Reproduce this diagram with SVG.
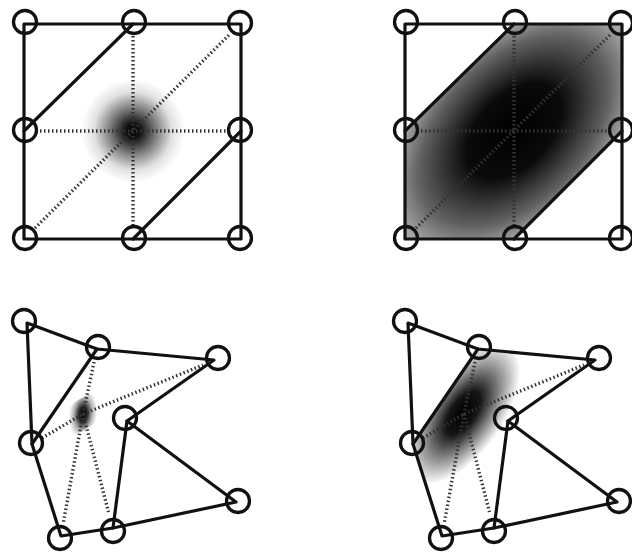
<svg xmlns="http://www.w3.org/2000/svg" width="632" height="554" viewBox="0 0 632 554">
<style>
.solid{stroke:#111;stroke-width:3.2;fill:none;stroke-linecap:round;stroke-linejoin:round}
.dot{stroke:#333;stroke-width:3.4;fill:none;stroke-dasharray:1.5 2.5}
.node circle{fill:none;stroke:#111;stroke-width:3.3}
</style>
<defs>
<radialGradient id="gTL" gradientUnits="userSpaceOnUse" cx="0" cy="0" r="1" gradientTransform="translate(133 131) scale(52 52)">
<stop offset="0" stop-color="#000" stop-opacity="1"/>
<stop offset="0.15" stop-color="#000" stop-opacity="0.92"/>
<stop offset="0.45" stop-color="#000" stop-opacity="0.5"/>
<stop offset="0.75" stop-color="#000" stop-opacity="0.12"/>
<stop offset="1" stop-color="#000" stop-opacity="0"/>
</radialGradient>
<radialGradient id="gTR" gradientUnits="userSpaceOnUse" cx="0" cy="0" r="1" gradientTransform="translate(133 131) rotate(-45) scale(190 118)">
<stop offset="0" stop-color="#000" stop-opacity="1"/>
<stop offset="0.3" stop-color="#000" stop-opacity="0.96"/>
<stop offset="0.6" stop-color="#000" stop-opacity="0.62"/>
<stop offset="0.85" stop-color="#000" stop-opacity="0.22"/>
<stop offset="1" stop-color="#000" stop-opacity="0.08"/>
</radialGradient>
<radialGradient id="gBL" gradientUnits="userSpaceOnUse" cx="0" cy="0" r="1" gradientTransform="translate(83 414) rotate(-42) scale(25 14)">
<stop offset="0" stop-color="#000" stop-opacity="1"/>
<stop offset="0.3" stop-color="#000" stop-opacity="0.85"/>
<stop offset="0.65" stop-color="#000" stop-opacity="0.3"/>
<stop offset="1" stop-color="#000" stop-opacity="0"/>
</radialGradient>
<radialGradient id="gBR" gradientUnits="userSpaceOnUse" cx="0" cy="0" r="1" gradientTransform="translate(82 413) rotate(-55) scale(82 40)">
<stop offset="0" stop-color="#000" stop-opacity="1"/>
<stop offset="0.3" stop-color="#000" stop-opacity="0.92"/>
<stop offset="0.65" stop-color="#000" stop-opacity="0.45"/>
<stop offset="1" stop-color="#000" stop-opacity="0"/>
</radialGradient>
<clipPath id="hexClip" clipPathUnits="userSpaceOnUse">
<polygon points="24,131 133,24 241,24 241,131 133,239 24,239"/>
</clipPath>
<clipPath id="quadClip" clipPathUnits="userSpaceOnUse">
<polygon points="97,349 214,360 180,560 61,536 32,444"/>
</clipPath>
</defs>
<rect width="632" height="554" fill="#fff"/>

<g id="shading">
<circle cx="133" cy="131" r="52" fill="url(#gTL)"/>
<g transform="translate(381 0)">
<rect x="24" y="24" width="217" height="215" fill="url(#gTR)" clip-path="url(#hexClip)"/>
</g>
<ellipse cx="83" cy="414" rx="25" ry="14" transform="rotate(-42 83 414)" fill="url(#gBL)"/>
<g transform="translate(381 0)">
<rect x="0" y="300" width="220" height="260" fill="url(#gBR)" clip-path="url(#quadClip)"/>
</g>
</g>

<g id="connectors">
<g id="conn-tl">
<line class="dot" x1="133" y1="36" x2="133" y2="227"/>
<line class="dot" x1="36" y1="131" x2="229" y2="131"/>
<line class="dot" x1="35" y1="228" x2="230" y2="34"/>
<polygon class="solid" points="24,24 241,24 241,239 24,239"/>
<line class="solid" x1="24" y1="131" x2="133" y2="24"/>
<line class="solid" x1="133" y1="239" x2="241" y2="131"/>
</g>
<g id="conn-tr" transform="translate(381 0)">
<line class="dot" x1="133" y1="36" x2="133" y2="227"/>
<line class="dot" x1="36" y1="131" x2="229" y2="131"/>
<line class="dot" x1="35" y1="228" x2="230" y2="34"/>
<polygon class="solid" points="24,24 241,24 241,239 24,239"/>
<line class="solid" x1="24" y1="131" x2="133" y2="24"/>
<line class="solid" x1="133" y1="239" x2="241" y2="131"/>
</g>
<g id="conn-bl">
<line class="dot" x1="94" y1="362" x2="83" y2="414"/>
<polyline class="dot" points="42,438 83,414 203,365"/>
<line class="dot" x1="83" y1="414" x2="63.5" y2="522"/>
<line class="dot" x1="83" y1="414" x2="108.5" y2="512"/>
<polygon class="solid" points="27,323 97,349 214,360 127,421 236,502 113,528 61,536 32,444"/>
<line class="solid" x1="32" y1="444" x2="97" y2="349"/>
<line class="solid" x1="127" y1="421" x2="113" y2="528"/>
</g>
<g id="conn-br" transform="translate(381 0)">
<line class="dot" x1="94" y1="362" x2="83" y2="414"/>
<polyline class="dot" points="42,438 83,414 203,365"/>
<line class="dot" x1="83" y1="414" x2="63.5" y2="522"/>
<line class="dot" x1="83" y1="414" x2="108.5" y2="512"/>
<polygon class="solid" points="27,323 97,349 214,360 127,421 236,502 113,528 61,536 32,444"/>
<line class="solid" x1="32" y1="444" x2="97" y2="349"/>
<line class="solid" x1="127" y1="421" x2="113" y2="528"/>
</g>
</g>

<g id="tl-n1" class="node"><circle cx="25" cy="22" r="11.5"/></g>
<g id="tl-n2" class="node"><circle cx="134" cy="22" r="11.5"/></g>
<g id="tl-n3" class="node"><circle cx="240" cy="23" r="11.5"/></g>
<g id="tl-n4" class="node"><circle cx="25" cy="130" r="11.5"/></g>
<g id="tl-n5" class="node"><circle cx="240" cy="130" r="11.5"/></g>
<g id="tl-n6" class="node"><circle cx="25" cy="238" r="11.5"/></g>
<g id="tl-n7" class="node"><circle cx="134" cy="238" r="11.5"/></g>
<g id="tl-n8" class="node"><circle cx="240" cy="238" r="11.5"/></g>
<g id="tr-n1" class="node"><circle cx="406" cy="22" r="11.5"/></g>
<g id="tr-n2" class="node"><circle cx="515" cy="22" r="11.5"/></g>
<g id="tr-n3" class="node"><circle cx="621" cy="23" r="11.5"/></g>
<g id="tr-n4" class="node"><circle cx="406" cy="130" r="11.5"/></g>
<g id="tr-n5" class="node"><circle cx="621" cy="130" r="11.5"/></g>
<g id="tr-n6" class="node"><circle cx="406" cy="238" r="11.5"/></g>
<g id="tr-n7" class="node"><circle cx="515" cy="238" r="11.5"/></g>
<g id="tr-n8" class="node"><circle cx="621" cy="238" r="11.5"/></g>
<g id="bl-A" class="node"><circle cx="24" cy="321" r="11.5"/></g>
<g id="bl-B" class="node"><circle cx="98" cy="347" r="11.5"/></g>
<g id="bl-C" class="node"><circle cx="218" cy="358" r="11.5"/></g>
<g id="bl-D" class="node"><circle cx="125" cy="418" r="11.5"/></g>
<g id="bl-E" class="node"><circle cx="31" cy="443" r="11.5"/></g>
<g id="bl-F" class="node"><circle cx="60" cy="538" r="11.5"/></g>
<g id="bl-G" class="node"><circle cx="113" cy="531" r="11.5"/></g>
<g id="bl-H" class="node"><circle cx="238" cy="501" r="11.5"/></g>
<g id="br-A" class="node"><circle cx="405" cy="321" r="11.5"/></g>
<g id="br-B" class="node"><circle cx="479" cy="347" r="11.5"/></g>
<g id="br-C" class="node"><circle cx="599" cy="358" r="11.5"/></g>
<g id="br-D" class="node"><circle cx="506" cy="418" r="11.5"/></g>
<g id="br-E" class="node"><circle cx="412" cy="443" r="11.5"/></g>
<g id="br-F" class="node"><circle cx="441" cy="538" r="11.5"/></g>
<g id="br-G" class="node"><circle cx="494" cy="531" r="11.5"/></g>
<g id="br-H" class="node"><circle cx="619" cy="501" r="11.5"/></g>
</svg>
